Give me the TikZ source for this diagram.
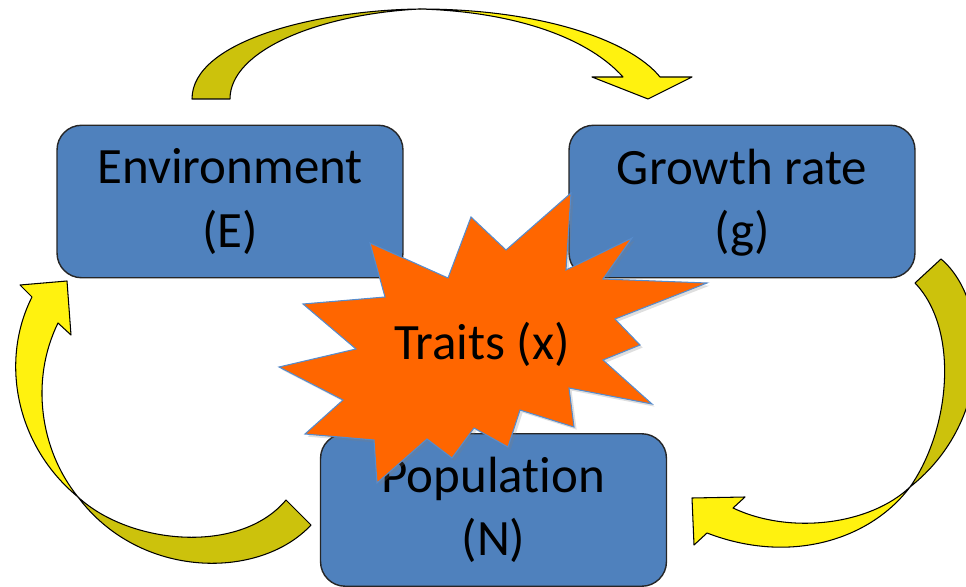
\documentclass[tikz,border=0pt]{standalone}
\usepackage{fontspec}
\setmainfont[Ligatures=NoCommon]{Carlito}
\usepackage{tikz}
\usetikzlibrary{shadows}
\definecolor{BoxBlue}{RGB}{79,129,189}
\definecolor{TraitOrange}{RGB}{255,102,0}
\definecolor{StarEdge}{RGB}{86,140,205}
\definecolor{ArrowYellow}{RGB}{255,242,15}
\definecolor{ArrowOlive}{RGB}{204,194,12}

\begin{document}
\begin{tikzpicture}[x=0.02cm,y=-0.02cm,
  box/.style={draw=black!85,line width=0.8pt,fill=BoxBlue,rounded corners=14pt,
    minimum width=6.92cm,minimum height=3.05cm,align=center,text depth=4pt,
    font=\fontsize{29}{36}\selectfont},
  backside/.style={fill=ArrowOlive,draw=black,line width=0.6pt,line join=round},
  frontside/.style={fill=ArrowYellow,draw=black,line width=0.6pt,line join=round}]
  \clip (0,0) rectangle (966,587);
  % the three state boxes
  \node[box] (env) at (230,201.5) {Environment\\(E)};
  \node[box] (grow) at (742,201.5) {Growth rate\\(g)};
  \node[box] (pop) at (493.5,510) {Population\\(N)};
  % environment -> growth rate
  \coordinate (topTwist) at (420,9);
  \draw[backside] (192,99) .. controls (192,40) and (320,10) .. (topTwist)
    .. controls (320,14) and (230,50) .. (230,99) -- cycle;
  \draw[frontside] (topTwist) .. controls (540,9) and (630,40) .. (660,77)
    -- (692,77) -- (648,99) -- (592,77) -- (623,77)
    .. controls (590,40) and (520,12) .. (topTwist) -- cycle;
  % growth rate -> population
  \coordinate (rightTwist) at (910,487);
  \draw[backside] (915,283) -- (941,259) .. controls (990,300) and (995,420) .. (rightTwist)
    .. controls (950,430) and (960,330) .. (915,283) -- cycle;
  \draw[frontside] (rightTwist) .. controls (870,540) and (790,565) .. (707,533)
    -- (694,545) -- (692,498) -- (745,497) -- (733,508)
    .. controls (790,535) and (870,525) .. (rightTwist) -- cycle;
  % population -> environment
  \coordinate (leftTwist) at (78,497);
  \draw[backside] (286,500) -- (311,525) .. controls (260,580) and (140,580) .. (leftTwist)
    .. controls (130,545) and (240,555) .. (286,500) -- cycle;
  \draw[frontside] (leftTwist) .. controls (15,445) and (0,360) .. (32,297)
    -- (20,285) -- (67,281) -- (71,335) -- (58,323)
    .. controls (30,380) and (40,450) .. (leftTwist) -- cycle;
  % traits burst on top
  \draw[fill=TraitOrange,draw=StarEdge,line width=0.6pt,
    drop shadow={opacity=0.25,shadow xshift=1.5pt,shadow yshift=-1.5pt}]
    (571,193) -- (566,270) -- (632,238) -- (603,279) -- (707,283) -- (615,319)
    -- (640,345) -- (603,360) -- (652,404) -- (569,388) -- (574,427) -- (520,410)
    -- (508,447) -- (474,428) -- (452,458) -- (427,439) -- (377,483) -- (374,440)
    -- (305,434) -- (343,400) -- (279,367) -- (356,349) -- (303,304) -- (385,297)
    -- (370,243) -- (448,278) -- (471,217) -- (506,250) -- cycle;
  \node[font=\fontsize{29}{36}\selectfont] (traits) at (482,344) {Traits (x)};
\end{tikzpicture}
\end{document}
